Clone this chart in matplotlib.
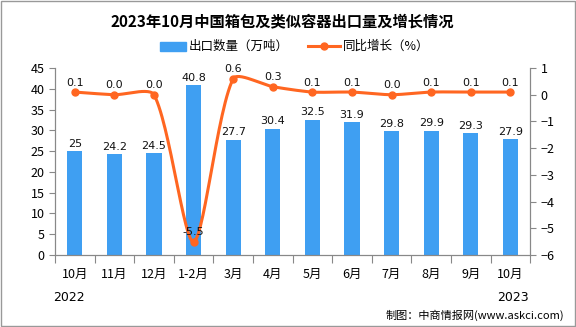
import numpy as np
import matplotlib
import matplotlib.pyplot as plt

matplotlib.use("Agg")
plt.rcParams["font.family"] = ["Noto Sans CJK SC", "DejaVu Sans"]

months = ["10月", "11月", "12月", "1-2月", "3月", "4月", "5月", "6月", "7月", "8月", "9月", "10月"]
export_qty = [25, 24.2, 24.5, 40.8, 27.7, 30.4, 32.5, 31.9, 29.8, 29.9, 29.3, 27.9]
yoy_growth = [0.1, 0.0, 0.0, -5.5, 0.6, 0.3, 0.1, 0.1, 0.0, 0.1, 0.1, 0.1]

BAR = "#3f9ff2"
LINE = "#ff6621"


def smooth(xs, ys, xscale=39.6, yscale=26.7, tension=0.25, n=30):
    # distance-weighted spline (drawing only), computed in pixel-like units
    p = np.column_stack([np.asarray(xs, float) * xscale, np.asarray(ys, float) * yscale])
    m = len(p)
    cin = p.copy()
    cout = p.copy()
    for i in range(1, m - 1):
        d01 = np.linalg.norm(p[i] - p[i - 1])
        d12 = np.linalg.norm(p[i + 1] - p[i])
        fa = tension * d01 / (d01 + d12)
        fb = tension * d12 / (d01 + d12)
        cin[i] = p[i] - fa * (p[i + 1] - p[i - 1])
        cout[i] = p[i] + fb * (p[i + 1] - p[i - 1])
    t = np.linspace(0, 1, n)[:, None]
    segs = []
    for i in range(m - 1):
        b = (1 - t) ** 3 * p[i] + 3 * (1 - t) ** 2 * t * cout[i] \
            + 3 * (1 - t) * t ** 2 * cin[i + 1] + t ** 3 * p[i + 1]
        segs.append(b)
    b = np.vstack(segs)
    return b[:, 0] / xscale, b[:, 1] / yscale


fig = plt.figure(figsize=(5.76, 3.27), dpi=100)
fig.patch.set_facecolor("white")
ax = fig.add_axes([0.0955, 0.22, 0.825, 0.572])
ax2 = ax.twinx()

x = np.arange(len(months))
ax.bar(x, export_qty, width=0.38, color=BAR, zorder=2)
for xi, v in zip(x, export_qty):
    ax.text(xi, v + 0.6, f"{v:g}", ha="center", va="bottom", fontsize=8,
            family="DejaVu Sans", color="#111111")

sx, sy = smooth(x, yoy_growth)
ax2.plot(sx, sy, color=LINE, linewidth=2.2, zorder=3)
ax2.plot(x, yoy_growth, "o", color=LINE, markersize=5, zorder=4)
for xi, v in zip(x, yoy_growth):
    ax2.text(xi, v + 0.17, f"{v:.1f}", ha="center", va="bottom", fontsize=8,
             family="DejaVu Sans", color="#111111", zorder=5)

ax.set_xlim(-0.5, len(months) - 0.5)
ax.set_ylim(0, 45)
ax.set_yticks(range(0, 46, 5))
ax2.set_ylim(-6, 1)
ax2.set_yticks(range(-6, 2))

ax.set_xticks(np.arange(-0.5, len(months), 1))
ax.set_xticklabels([])
ax.set_xticks(x, minor=True)
ax.set_xticklabels(months, minor=True)
ax.tick_params(axis="x", which="major", length=6, color="#888888", direction="out")
ax.tick_params(axis="x", which="minor", length=0, pad=9, labelsize=9)
ax.tick_params(axis="y", length=4, color="#888888", labelsize=9)
ax2.tick_params(axis="y", length=4, color="#888888", labelsize=9)

for a in (ax, ax2):
    a.spines["top"].set_visible(False)
    for s in ("left", "right", "bottom"):
        a.spines[s].set_color("#888888")
        a.spines[s].set_linewidth(0.8)

fig.text(0.49, 0.935, "2023年10月中国箱包及类似容器出口量及增长情况", ha="center", va="center",
         fontsize=11, fontweight="bold")

# legend
fig.patches.append(plt.Rectangle((0.278, 0.845), 0.045, 0.028, color=BAR, transform=fig.transFigure))
fig.text(0.328, 0.859, "出口数量（万吨）", ha="left", va="center", fontsize=9)
fig.lines.append(plt.Line2D([0.535, 0.59], [0.859, 0.859], color=LINE, linewidth=2.2,
                            transform=fig.transFigure))
fig.lines.append(plt.Line2D([0.5625], [0.859], marker="o", color=LINE, markersize=5,
                            transform=fig.transFigure))
fig.text(0.595, 0.859, "同比增长（%）", ha="left", va="center", fontsize=9)

fig.text(0.12, 0.09, "2022", ha="center", va="center", fontsize=9, family="DejaVu Sans")
fig.text(0.89, 0.09, "2023", ha="center", va="center", fontsize=9, family="DejaVu Sans")
fig.text(0.98, 0.035, "制图：中商情报网(www.askci.com)", ha="right", va="center", fontsize=8)

fig.patches.append(plt.Rectangle((0.001, 0.002), 0.997, 0.995, fill=False, edgecolor="#999999",
                                 linewidth=1, transform=fig.transFigure))

fig.savefig("out.png", dpi=100)
